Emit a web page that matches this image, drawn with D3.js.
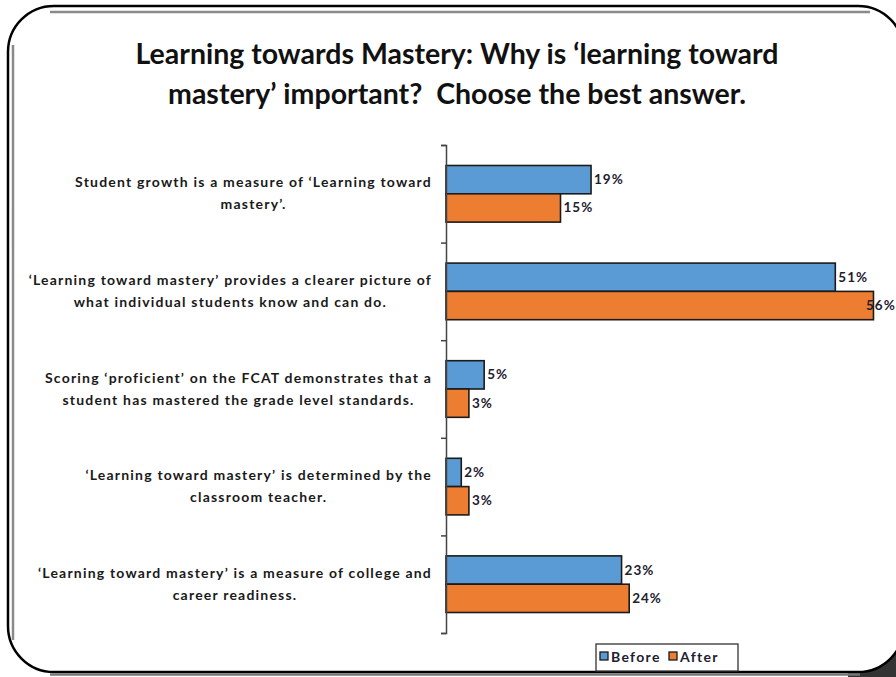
<!DOCTYPE html>
<html>
<head>
<meta charset="utf-8">
<script src="https://cdn.jsdelivr.net/npm/d3@7"></script>
<style>
  html, body { margin: 0; padding: 0; background: #fff; }
  svg { display: block; }
  text { white-space: pre; }
</style>
</head>
<body>
<svg id="chart" width="896" height="677"></svg>
<script>
// ---- data ----
const titleLines = [
  "Learning towards Mastery: Why is \u2018learning toward",
  "mastery\u2019 important?  Choose the best answer."
];
const categories = [
  "Student growth is a measure of \u2018Learning toward\nmastery\u2019.",
  "\u2018Learning toward mastery\u2019 provides a clearer picture of\nwhat individual students know and can do.",
  "Scoring \u2018proficient\u2019 on the FCAT demonstrates that a\nstudent has mastered the grade level standards.",
  "\u2018Learning toward mastery\u2019 is determined by the\nclassroom teacher.",
  "\u2018Learning toward mastery\u2019 is a measure of college and\ncareer readiness."
];
const seriesNames = ["Before", "After"];
const before = [19, 51, 5, 2, 23];
const after = [15, 56, 3, 3, 24];
const seriesColors = ["#5B9BD5", "#ED7D31"];

// ---- layout ----
const W = 896, H = 677;
const svg = d3.select("#chart");
const FONT = "Lato, 'Open Sans', sans-serif";

// frame
const fx0 = 8, fy0 = 6, fx1 = 904, fy1 = 672, r = 46;
svg.append("rect").attr("x", 0).attr("y", 0).attr("width", W).attr("height", H).attr("fill", "#fff");
// bottom-right shadow
svg.append("path")
  .attr("d", `M${fx1-r-10},${fy1} Q${fx1-4},${fy1} ${fx1-4},${fy1-r-10} L${W},${fy1-r-10} L${W},${H} L${fx1-r-10},${H} Z`)
  .attr("fill", "#333");
svg.append("rect")
  .attr("x", fx0).attr("y", fy0).attr("width", fx1 - fx0).attr("height", fy1 - fy0)
  .attr("rx", r).attr("ry", r)
  .attr("fill", "#fff").attr("stroke", "#000").attr("stroke-width", 2.5);
// inner gray lines
svg.append("line").attr("x1", 50).attr("x2", 870).attr("y1", 12).attr("y2", 12)
  .attr("stroke", "#8a8a8a").attr("stroke-width", 2.5);
svg.append("line").attr("x1", 13).attr("x2", 13).attr("y1", 45).attr("y2", 640)
  .attr("stroke", "#8a8a8a").attr("stroke-width", 2.5);
svg.append("line").attr("x1", 50).attr("x2", 860).attr("y1", 674.5).attr("y2", 674.5)
  .attr("stroke", "#777").attr("stroke-width", 2.5);

// title
svg.append("g").selectAll("text").data(titleLines).join("text")
  .attr("x", 457).attr("y", (d, i) => 64 + i * 40)
  .attr("text-anchor", "middle")
  .attr("font-family", FONT).attr("font-weight", "bold")
  .attr("font-size", 28.5).attr("fill", "#111")
  .text(d => d);

// scales
const axisX = 446, plotTop = 145, plotBottom = 633;
const x = d3.scaleLinear().domain([0, 60]).range([axisX, axisX + 458]);
const y = d3.scaleBand().domain(d3.range(categories.length)).range([plotTop, plotBottom])
  .paddingInner(0.42).paddingOuter(0.21);
const ySub = d3.scaleBand().domain([0, 1]).range([0, y.bandwidth()]);

const data = categories.map((c, i) => ({ c, i, vals: [before[i], after[i]] }));

// bars
const gBars = svg.append("g");
data.forEach(d => {
  d.vals.forEach((v, s) => {
    gBars.append("rect")
      .attr("x", x(0)).attr("y", y(d.i) + ySub(s))
      .attr("width", x(v) - x(0)).attr("height", ySub.bandwidth())
      .attr("fill", seriesColors[s]).attr("stroke", "#1b1b1b").attr("stroke-width", 1.6);
    const lx = Math.min(x(v) + 3, W - 30);
    gBars.append("text")
      .attr("x", lx).attr("y", y(d.i) + ySub(s) + ySub.bandwidth() / 2 + 4.5)
      .attr("font-family", FONT).attr("font-weight", "bold").attr("font-size", 13.5)
      .attr("letter-spacing", 1).attr("fill", "#1e2030")
      .text(v + "%");
  });
});

// axis
const yAxisScale = d3.scaleLinear().domain([0, categories.length]).range([plotTop, plotBottom]);
const axis = d3.axisLeft(yAxisScale).ticks(categories.length).tickSize(5).tickFormat("");
const gAxis = svg.append("g").attr("transform", `translate(${axisX},0)`).call(axis);
gAxis.select(".domain").attr("stroke", "#444").attr("stroke-width", 1.5);
gAxis.selectAll(".tick line").attr("stroke", "#444").attr("stroke-width", 1.5);

// category labels
const gLab = svg.append("g");
data.forEach(d => {
  const lines = d.c.split("\n");
  const cy = y(d.i) + y.bandwidth() / 2;
  const g = gLab.append("g");
  const texts = g.selectAll("text").data(lines).join("text")
    .attr("y", (l, k) => cy + (k - (lines.length - 1) / 2) * 22 + 4.5)
    .attr("text-anchor", "middle")
    .attr("font-family", FONT).attr("font-weight", "bold").attr("font-size", 14)
    .attr("letter-spacing", 1.2).attr("fill", "#1a1a1a")
    .text(l => l);
  let maxW = 0;
  texts.each(function () { maxW = Math.max(maxW, this.getComputedTextLength()); });
  texts.attr("x", 432 - maxW / 2);
});

// legend
const lg = svg.append("g").attr("transform", "translate(596,644)");
lg.append("rect").attr("width", 142).attr("height", 27).attr("fill", "#fff")
  .attr("stroke", "#333").attr("stroke-width", 1.3);
const items = lg.selectAll("g").data(seriesNames).join("g")
  .attr("transform", (d, i) => `translate(${4 + i * 69},0)`);
items.append("rect").attr("x", 0).attr("y", 8).attr("width", 8).attr("height", 8)
  .attr("fill", (d, i) => seriesColors[i]).attr("stroke", "#1b1b1b").attr("stroke-width", 1.3);
items.append("text").attr("x", 11).attr("y", 17.5)
  .attr("font-family", FONT).attr("font-weight", "bold").attr("font-size", 14)
  .attr("letter-spacing", 1.3).attr("fill", "#1e2030")
  .text(d => d);
</script>
</body>
</html>
